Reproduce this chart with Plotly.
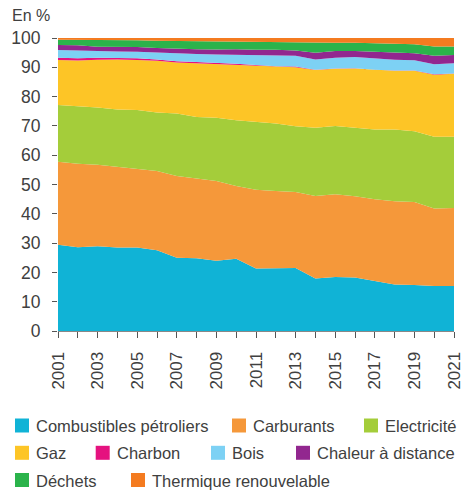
import plotly.graph_objects as go

years = list(range(2001, 2022))
tick_labels = [str(y) if (y - 2001) % 2 == 0 else "" for y in years]
y_ticks = list(range(0, 101, 10))

combustibles = [29.4, 28.6, 28.9, 28.5, 28.5, 27.6, 25.0, 24.8, 24.0, 24.7, 21.3, 21.3, 21.5, 17.9, 18.4, 18.3, 17.1, 15.9, 15.7, 15.4, 15.4]
carburants = [28.4, 28.5, 27.8, 27.5, 26.9, 27.0, 27.9, 27.3, 27.2, 24.8, 26.9, 26.5, 25.9, 28.2, 28.3, 27.7, 27.9, 28.4, 28.3, 26.4, 26.6]
electricite = [19.3, 19.6, 19.6, 19.6, 20.0, 20.0, 21.3, 20.9, 21.6, 22.4, 23.1, 23.0, 22.5, 23.3, 23.3, 23.5, 23.8, 24.5, 24.2, 24.5, 24.3]
gaz = [15.4, 15.6, 16.3, 17.1, 17.1, 17.6, 17.4, 18.3, 18.4, 18.9, 19.1, 19.3, 20.1, 19.7, 19.5, 20.1, 20.3, 20.0, 20.6, 21.2, 21.5]
charbon = [0.8, 0.8, 0.7, 0.6, 0.6, 0.5, 0.5, 0.5, 0.4, 0.4, 0.4, 0.3, 0.3, 0.1, 0.1, 0.1, 0.1, 0.1, 0.1, 0.1, 0.1]
bois = [2.6, 2.6, 2.1, 2.1, 2.2, 2.3, 2.6, 2.7, 2.8, 3.1, 3.3, 3.6, 3.6, 3.5, 3.7, 3.8, 3.8, 3.7, 3.5, 3.4, 3.5]
chaleur = [1.7, 1.8, 1.6, 1.6, 1.6, 1.6, 1.6, 1.7, 1.7, 1.9, 1.9, 2.0, 1.8, 2.3, 2.3, 2.1, 2.3, 2.4, 2.4, 2.9, 2.8]
dechets = [1.8, 1.9, 2.3, 2.3, 2.3, 2.5, 2.7, 2.7, 2.7, 2.6, 2.6, 2.6, 2.8, 3.3, 2.8, 2.8, 2.9, 3.0, 3.1, 3.2, 2.9]
thermique = [0.6, 0.6, 0.7, 0.7, 0.8, 0.9, 1.0, 1.1, 1.2, 1.2, 1.4, 1.4, 1.5, 1.7, 1.6, 1.6, 1.8, 2.0, 2.1, 2.9, 2.9]

series_names = ["Combustibles pétroliers", "Carburants", "Electricité", "Gaz", "Charbon",
                "Bois", "Chaleur à distance", "Déchets", "Thermique renouvelable"]
series_values = [combustibles, carburants, electricite, gaz, charbon, bois, chaleur, dechets, thermique]
colors = ["#10b3d6", "#f5983a", "#a4cd3a", "#fdc526", "#e5127f", "#7dd1f4", "#92278f", "#2bb34b", "#f47b20"]

FONT = "Liberation Sans, Arial, sans-serif"
TXT = "#404040"

# page is offset by the 8px body margin; plot area on page: x 58..454, y 38..331
W, H = 464, 484
PX0, PX1, PY0, PY1 = 58, 454, 38, 331


def px_x(x):
    return (x - PX0) / (PX1 - PX0)


def px_y(y):
    return (PY1 - y) / (PY1 - PY0)


# manual legend layout (page pixels): symbol left x, row centre y
legend_pos = [(15, 425.5), (232, 425.5), (364, 425.5),
              (15, 452.8), (95.7, 452.8), (211, 452.8), (296, 452.8),
              (15, 480), (131, 480)]
SYM = 14

fig = go.Figure()
for name, vals, col in zip(series_names, series_values, colors):
    fig.add_trace(go.Scatter(
        x=years, y=vals, name=name, stackgroup="one", mode="lines",
        line=dict(width=0, color=col), fillcolor=col, showlegend=False,
        hoverinfo="x+y+name"))

shapes = []
annotations = []
for name, col, (sx, cy) in zip(series_names, colors, legend_pos):
    shapes.append(dict(type="rect", xref="paper", yref="paper",
                       x0=px_x(sx), x1=px_x(sx + SYM),
                       y0=px_y(cy + SYM / 2), y1=px_y(cy - SYM / 2),
                       fillcolor=col, line=dict(width=0), layer="above"))
    annotations.append(dict(text=name, xref="paper", yref="paper",
                            x=px_x(sx + 19), y=px_y(cy + 0.5),
                            xanchor="left", yanchor="middle", showarrow=False,
                            font=dict(size=16.5, color=TXT, family=FONT)))

annotations.append(dict(text="En %", xref="paper", yref="paper",
                        x=px_x(10), y=px_y(5), xanchor="left", yanchor="top",
                        showarrow=False, font=dict(size=16, color=TXT, family=FONT)))

fig.update_layout(
    width=W, height=H,
    margin=dict(l=50, r=18, t=30, b=161, autoexpand=False),
    paper_bgcolor="white", plot_bgcolor="white",
    font=dict(family=FONT, size=17, color=TXT),
    showlegend=False,
    xaxis=dict(range=[2001, 2021], tickvals=years, ticktext=tick_labels,
               tickangle=-90, ticks="outside", ticklen=6, tickcolor="#555",
               showline=True, linecolor="#888", linewidth=1,
               showgrid=False, zeroline=False, fixedrange=True,
               tickfont=dict(size=17, color=TXT), ticklabelstandoff=7),
    yaxis=dict(range=[0, 100], tickvals=y_ticks, ticks="outside", ticklen=5,
               tickcolor="#555", showline=False, showgrid=False, zeroline=False,
               tickfont=dict(size=17.5, color=TXT), ticklabelstandoff=8,
               fixedrange=True),
    shapes=shapes,
    annotations=annotations,
)

fig.write_html("out.html")
